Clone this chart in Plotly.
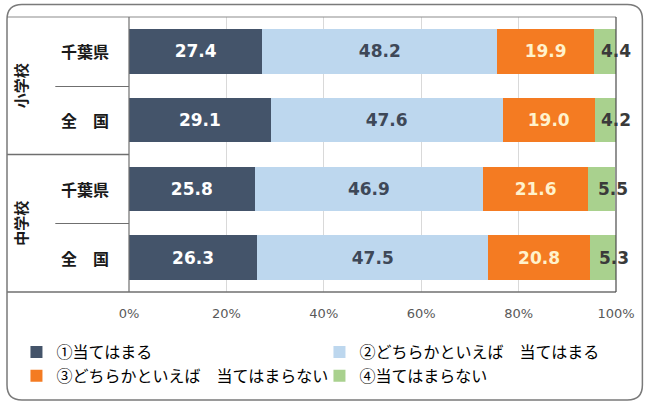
import plotly.graph_objects as go

# Survey results (%), rows top to bottom
groups = ["小学校", "小学校", "中学校", "中学校"]
regions = ["千葉県", "全　国", "千葉県", "全　国"]
series_names = [
    "①当てはまる",
    "②どちらかといえば　当てはまる",
    "③どちらかといえば　当てはまらない",
    "④当てはまらない",
]
s1 = [27.4, 29.1, 25.8, 26.3]
s2 = [48.2, 47.6, 46.9, 47.5]
s3 = [19.9, 19.0, 21.6, 20.8]
s4 = [4.4, 4.2, 5.5, 5.3]
x_ticks = [0, 20, 40, 60, 80, 100]
x_tick_text = ["0%", "20%", "40%", "60%", "80%", "100%"]

colors = ["#44546A", "#BDD7EE", "#F47B22", "#A9D18E"]
text_colors = ["#FFFFFF", "#3E4858", "#FFF2CC", "#3A3A3A"]

W, H = 647, 407
PL, PR, PT, PB = 129, 618, 17, 292  # plot area in pixels


def px(xp):
    return (xp - PL) / (PR - PL)


def py(yp):
    return (PB - yp) / (PB - PT)


rows = [f"{g}|{r}|{i}" for i, (g, r) in enumerate(zip(groups, regions))]

fig = go.Figure()
for k, (vals, name) in enumerate(zip([s1, s2, s3, s4], series_names)):
    show_text = k < 3
    fig.add_trace(go.Bar(
        y=rows, x=vals, name=name, orientation="h",
        marker=dict(color=colors[k], line=dict(width=0)),
        width=0.65,
        text=[f"{v:.1f}" for v in vals] if show_text else None,
        textposition="inside" if show_text else "none",
        insidetextanchor="middle",
        textfont=dict(family="DejaVu Sans", size=17, color=text_colors[k], weight="bold"),
        hoverinfo="skip",
    ))

annotations = []
# labels of the small last segments
for i, row in enumerate(rows):
    base = s1[i] + s2[i] + s3[i]
    annotations.append(dict(
        x=base + s4[i] / 2, y=row, xref="x", yref="y", text=f"{s4[i]:.1f}",
        showarrow=False, xshift=11,
        font=dict(family="DejaVu Sans", size=17, color=text_colors[3], weight="bold"),
    ))

# row labels
for i, row in enumerate(rows):
    annotations.append(dict(
        x=px(85), y=row, xref="paper", yref="y", text=regions[i],
        showarrow=False, xanchor="center",
        font=dict(family="Noto Sans CJK JP", size=16, color="#1a1a1a", weight="bold"),
    ))

# group labels (vertical)
for g, (ya, yb) in zip(["小学校", "中学校"], [(17, 154.5), (154.5, 292)]):
    annotations.append(dict(
        x=px(20), y=py((ya + yb) / 2), xref="paper", yref="paper", text=g,
        showarrow=False, textangle=-90, xanchor="center", yanchor="middle",
        font=dict(family="Noto Sans CJK JP", size=15, color="#1a1a1a", weight="bold"),
    ))

line_gray = dict(color="#8c8c8c", width=1.2)
shapes = []


def hline(x0, x1, y, line):
    shapes.append(dict(type="line", xref="paper", yref="paper",
                       x0=px(x0), x1=px(x1), y0=py(y), y1=py(y), line=line))


def vline(x, y0, y1, line):
    shapes.append(dict(type="line", xref="paper", yref="paper",
                       x0=px(x), x1=px(x), y0=py(y0), y1=py(y1), line=line))


# inner table box
hline(6.5, PR, PT, line_gray)
hline(6.5, PR, PB, dict(color="#6f6f6f", width=1.5))
vline(PL, PT, PB, dict(color="#6f6f6f", width=1.2))
vline(PR, PT, PB, dict(color="#4a4a4a", width=1.2))
hline(6.5, PL, 154.5, dict(color="#6f6f6f", width=1.5))
hline(55, PL, 86.5, dict(color="#6f6f6f", width=1.2))
hline(55, PL, 223.5, dict(color="#6f6f6f", width=1.2))

# rounded outer frame
x0f, x1f, y0f, y1f, r = 6.5, 644.5, 4.5, 400, 15
path = (
    f"M {px(x0f + r)},{py(y0f)} L {px(x1f - r)},{py(y0f)} "
    f"Q {px(x1f)},{py(y0f)} {px(x1f)},{py(y0f + r)} "
    f"L {px(x1f)},{py(y1f - r)} Q {px(x1f)},{py(y1f)} {px(x1f - r)},{py(y1f)} "
    f"L {px(x0f + r)},{py(y1f)} Q {px(x0f)},{py(y1f)} {px(x0f)},{py(y1f - r)} "
    f"L {px(x0f)},{py(y0f + r)} Q {px(x0f)},{py(y0f)} {px(x0f + r)},{py(y0f)} Z"
)
shapes.append(dict(type="path", xref="paper", yref="paper", path=path,
                   line=dict(color="#7a7a7a", width=1.5)))

fig.update_layout(
    width=W, height=H,
    margin=dict(l=PL, r=W - PR, t=PT, b=H - PB, pad=0),
    barmode="stack",
    paper_bgcolor="white", plot_bgcolor="white",
    showlegend=True,
    legend=dict(
        orientation="h", x=px(16), y=py(335), xanchor="left", yanchor="top",
        font=dict(family="Noto Sans CJK JP", size=16, color="#000000"),
        entrywidth=258, entrywidthmode="pixels", itemwidth=30,
        traceorder="normal", tracegroupgap=0,
    ),
    xaxis=dict(
        range=[0, 100], tickvals=x_ticks, ticktext=x_tick_text,
        showgrid=True, gridcolor="#d9d9d9", gridwidth=1, zeroline=False,
        showline=False, ticks="", ticklabelstandoff=12,
        tickfont=dict(family="DejaVu Sans", size=13, color="#595959"),
        fixedrange=True,
    ),
    yaxis=dict(
        categoryorder="array", categoryarray=rows, range=[3.5, -0.5],
        showticklabels=False, showgrid=False, zeroline=False, showline=False,
        fixedrange=True,
    ),
    annotations=annotations,
    shapes=shapes,
    uniformtext=dict(mode="show", minsize=17),
)

fig.write_html("out.html")
